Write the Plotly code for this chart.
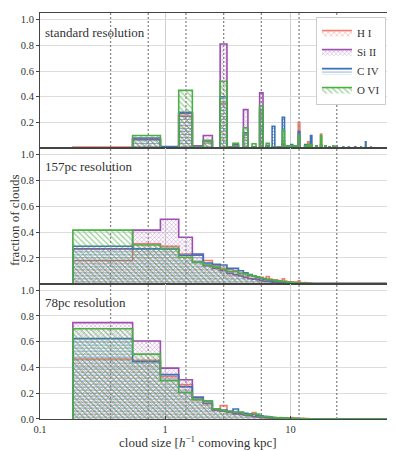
import numpy as np
import plotly.graph_objects as go
from plotly.subplots import make_subplots

# linear bins of one 78pc-ish cell (h^-1 comoving kpc), centred on multiples of the cell
cell = 0.366
n_bins = 160
edges = 0.183 + cell * np.arange(n_bins + 1)

# cell sizes marked with dotted lines
cell_marks = [0.366, 0.732, 1.464, 2.928, 5.856, 11.71, 23.42]

ions = ["H I", "Si II", "C IV", "O VI"]
colors = ["#f47c6e", "#9b4fae", "#3d72b8", "#4cae45"]
patterns = ["x", "x", "-", "\\"]
pat_sizes = [4, 3, 3, 4]

# standard resolution: only a few bin indices are populated
std_bins = [1, 2, 3, 4, 5, 6, 7, 8, 9, 10, 12, 14, 16, 18, 20, 22, 24, 26, 28, 30,
            32, 36, 38, 40, 44, 48, 52, 56, 60, 64, 72, 80, 90, 100, 109, 120, 135, 150]
std_hi = [0.01, 0.07, 0.0, 0.25, 0.01, 0.05, 0.005, 0.35, 0.005, 0.02, 0.10, 0.01, 0.28, 0.02,
          0.01, 0.01, 0.06, 0.02, 0.02, 0.01, 0.20, 0.02, 0.05, 0.03, 0.02, 0.11, 0.02, 0.01,
          0.02, 0.015, 0.01, 0.01, 0.01, 0.005, 0.01, 0.005, 0.005, 0.003]
std_si = [0.0, 0.07, 0.0, 0.27, 0.02, 0.10, 0.005, 0.81, 0.01, 0.01, 0.30, 0.01, 0.43, 0.01,
          0.01, 0.01, 0.03, 0.01, 0.02, 0.01, 0.05, 0.01, 0.02, 0.01, 0.02, 0.02, 0.01, 0.01,
          0.01, 0.01, 0.005, 0.005, 0.01, 0.005, 0.005, 0.005, 0.005, 0.003]
std_civ = [0.0, 0.08, 0.013, 0.28, 0.01, 0.06, 0.0, 0.40, 0.01, 0.03, 0.12, 0.01, 0.30, 0.02,
           0.17, 0.01, 0.24, 0.02, 0.03, 0.02, 0.13, 0.03, 0.02, 0.10, 0.02, 0.03, 0.02, 0.01,
           0.01, 0.02, 0.01, 0.01, 0.01, 0.01, 0.05, 0.01, 0.005, 0.005]
std_ovi = [0.0, 0.10, 0.0, 0.45, 0.01, 0.06, 0.0, 0.52, 0.01, 0.04, 0.16, 0.035, 0.33, 0.04,
           0.01, 0.01, 0.14, 0.02, 0.02, 0.02, 0.10, 0.02, 0.03, 0.03, 0.02, 0.10, 0.02, 0.01,
           0.02, 0.01, 0.01, 0.01, 0.005, 0.01, 0.01, 0.005, 0.005, 0.003]

# 157pc resolution, bins 1..40
hi_157 = [0.18, 0.31, 0.29, 0.23, 0.17, 0.18, 0.14, 0.12, 0.11, 0.10, 0.08, 0.075, 0.06, 0.06,
          0.045, 0.05, 0.04, 0.055, 0.035, 0.03, 0.03, 0.025, 0.02, 0.037, 0.02, 0.015, 0.012,
          0.015, 0.01, 0.012, 0.01, 0.023, 0.008, 0.007, 0.006, 0.008, 0.005, 0.004, 0.004, 0.003]
si_157 = [0.27, 0.415, 0.50, 0.36, 0.22, 0.14, 0.12, 0.10, 0.08, 0.07, 0.06, 0.05, 0.04, 0.035,
          0.03, 0.025, 0.02, 0.018, 0.015, 0.012, 0.01, 0.009, 0.008, 0.007, 0.006, 0.005, 0.004,
          0.004, 0.003, 0.003, 0.002, 0.002, 0.002, 0.001, 0.001, 0.001, 0.001, 0.001, 0.0, 0.0]
civ_157 = [0.29, 0.27, 0.27, 0.22, 0.23, 0.16, 0.15, 0.145, 0.12, 0.12, 0.10, 0.085, 0.07, 0.06,
           0.05, 0.04, 0.035, 0.03, 0.025, 0.022, 0.02, 0.018, 0.015, 0.012, 0.01, 0.01, 0.008,
           0.007, 0.006, 0.005, 0.005, 0.004, 0.004, 0.003, 0.003, 0.002, 0.002, 0.002, 0.001, 0.001]
ovi_157 = [0.415, 0.30, 0.275, 0.205, 0.167, 0.145, 0.128, 0.11, 0.094, 0.094, 0.078, 0.078, 0.066,
           0.06, 0.053, 0.045, 0.04, 0.035, 0.03, 0.028, 0.025, 0.022, 0.02, 0.018, 0.015, 0.012,
           0.011, 0.01, 0.009, 0.008, 0.007, 0.006, 0.005, 0.005, 0.004, 0.004, 0.003, 0.003, 0.002, 0.002]

# 78pc resolution, bins 1..40
hi_78 = [0.465, 0.455, 0.33, 0.267, 0.15, 0.12, 0.07, 0.104, 0.06, 0.05, 0.045, 0.04, 0.035, 0.05,
         0.025, 0.02, 0.02, 0.018, 0.015, 0.012, 0.01, 0.01, 0.012, 0.008, 0.01, 0.008, 0.006,
         0.012, 0.006, 0.008, 0.005, 0.006, 0.004, 0.004, 0.005, 0.003, 0.003, 0.004, 0.002, 0.002]
si_78 = [0.748, 0.605, 0.395, 0.305, 0.17, 0.12, 0.07, 0.06, 0.05, 0.04, 0.035, 0.03, 0.025, 0.02,
         0.015, 0.012, 0.01, 0.008, 0.007, 0.006, 0.005, 0.004, 0.004, 0.003, 0.003, 0.002, 0.002,
         0.002, 0.001, 0.001, 0.001, 0.001, 0.001, 0.0, 0.0, 0.0, 0.0, 0.0, 0.0, 0.0]
civ_78 = [0.625, 0.445, 0.345, 0.25, 0.165, 0.14, 0.08, 0.07, 0.06, 0.078, 0.05, 0.045, 0.04,
          0.035, 0.03, 0.025, 0.02, 0.02, 0.015, 0.012, 0.01, 0.009, 0.008, 0.007, 0.006, 0.005,
          0.005, 0.004, 0.004, 0.003, 0.003, 0.003, 0.002, 0.002, 0.002, 0.001, 0.001, 0.001, 0.001, 0.001]
ovi_78 = [0.70, 0.503, 0.30, 0.208, 0.15, 0.137, 0.08, 0.065, 0.054, 0.054, 0.054, 0.033, 0.039,
          0.039, 0.039, 0.02, 0.02, 0.018, 0.015, 0.012, 0.011, 0.01, 0.009, 0.008, 0.007, 0.006,
          0.006, 0.005, 0.005, 0.004, 0.004, 0.003, 0.003, 0.003, 0.002, 0.002, 0.002, 0.002, 0.001, 0.001]

panel_labels = ["standard resolution", "157pc resolution", "78pc resolution"]


def full_hist(bins, vals):
    h = np.zeros(n_bins)
    h[np.array(bins) - 1] = vals
    return h


def dense_hist(vals):
    h = np.zeros(n_bins)
    h[:len(vals)] = vals
    return h


panels = [
    [full_hist(std_bins, v) for v in (std_hi, std_si, std_civ, std_ovi)],
    [dense_hist(v) for v in (hi_157, si_157, civ_157, ovi_157)],
    [dense_hist(v) for v in (hi_78, si_78, civ_78, ovi_78)],
]

fig = make_subplots(rows=3, cols=1, shared_xaxes=True, vertical_spacing=0)

for row, hists in enumerate(panels, start=1):
    for i, h in enumerate(hists):
        # closed step outline: up at first edge, down at last edge
        xs = np.concatenate([[edges[0]], edges[:-1], [edges[-1]]])
        ys = np.concatenate([[0.0], h, [0.0]])
        fig.add_trace(go.Scatter(
            x=xs, y=ys, mode="lines", line_shape="hv",
            line=dict(color=colors[i], width=1.6),
            fill="tozeroy", fillcolor="rgba(0,0,0,0)",
            fillpattern=dict(shape=patterns[i], size=pat_sizes[i], solidity=0.3,
                             fgcolor=colors[i], fgopacity=0.6),
            name=ions[i], showlegend=(row == 1), legendrank=i,
            hoverinfo="skip",
        ), row=row, col=1)

serif = "Liberation Serif, Times New Roman, DejaVu Serif, serif"
axis_font = dict(family=serif, size=10.5, color="#333")
for row in (1, 2, 3):
    fig.update_yaxes(
        range=[0, 1.05],
        tickvals=[0.2, 0.4, 0.6, 0.8, 1.0] if row < 3 else [0, 0.2, 0.4, 0.6, 0.8, 1.0],
        tickformat=".1f", ticks="outside", ticklen=3, tickcolor="#444",
        showgrid=True, gridcolor="#dddddd", gridwidth=1, zeroline=False,
        showline=True, linecolor="#444", linewidth=1, mirror=True,
        tickfont=axis_font, row=row, col=1)
    fig.update_xaxes(
        type="log", range=[-1, np.log10(59)],
        tickvals=[0.1, 1, 10], ticktext=["0.1", "1", "10"],
        ticks="inside" if row == 3 else "", ticklen=3, tickcolor="#444",
        showticklabels=(row == 3),
        showgrid=True, gridcolor="#cfcfcf", gridwidth=1, zeroline=False,
        showline=True, linecolor="#444", linewidth=1, mirror=True,
        tickfont=axis_font, row=row, col=1)

for xv in cell_marks:
    fig.add_shape(type="line", xref="x3", yref="paper", x0=xv, x1=xv, y0=0, y1=1,
                  line=dict(color="#888", width=1.3, dash="2px,2px"), layer="above")

label_y = [0.952, 0.622, 0.287]
for txt, yy in zip(panel_labels, label_y):
    fig.add_annotation(text=txt, xref="paper", yref="paper", x=0.008, y=yy,
                       xanchor="left", yanchor="middle", showarrow=False,
                       font=dict(family=serif, size=13, color="#333"))

fig.add_annotation(text="fraction of clouds", xref="paper", yref="paper",
                   x=-0.075, y=0.49, textangle=-90, showarrow=False,
                   xanchor="center", yanchor="middle",
                   font=dict(family=serif, size=13, color="#333"))
fig.add_annotation(text="cloud size [<i>h</i><sup>\u22121</sup> comoving kpc]",
                   xref="paper", yref="paper", x=0.454, y=-0.057, showarrow=False,
                   xanchor="center", yanchor="middle",
                   font=dict(family=serif, size=13, color="#333"))

# the page body keeps its default 8px margin, so the figure is 8px smaller
fig.update_layout(
    width=387, height=443,
    margin=dict(l=32, r=8, t=5, b=32),
    paper_bgcolor="white", plot_bgcolor="white",
    legend=dict(x=0.997, y=0.99, xanchor="right", yanchor="top",
                bgcolor="white", bordercolor="#cccccc", borderwidth=1,
                font=dict(family=serif, size=11, color="#333"),
                itemwidth=30, tracegroupgap=0),
    showlegend=True,
)

fig.write_html("out.html")
